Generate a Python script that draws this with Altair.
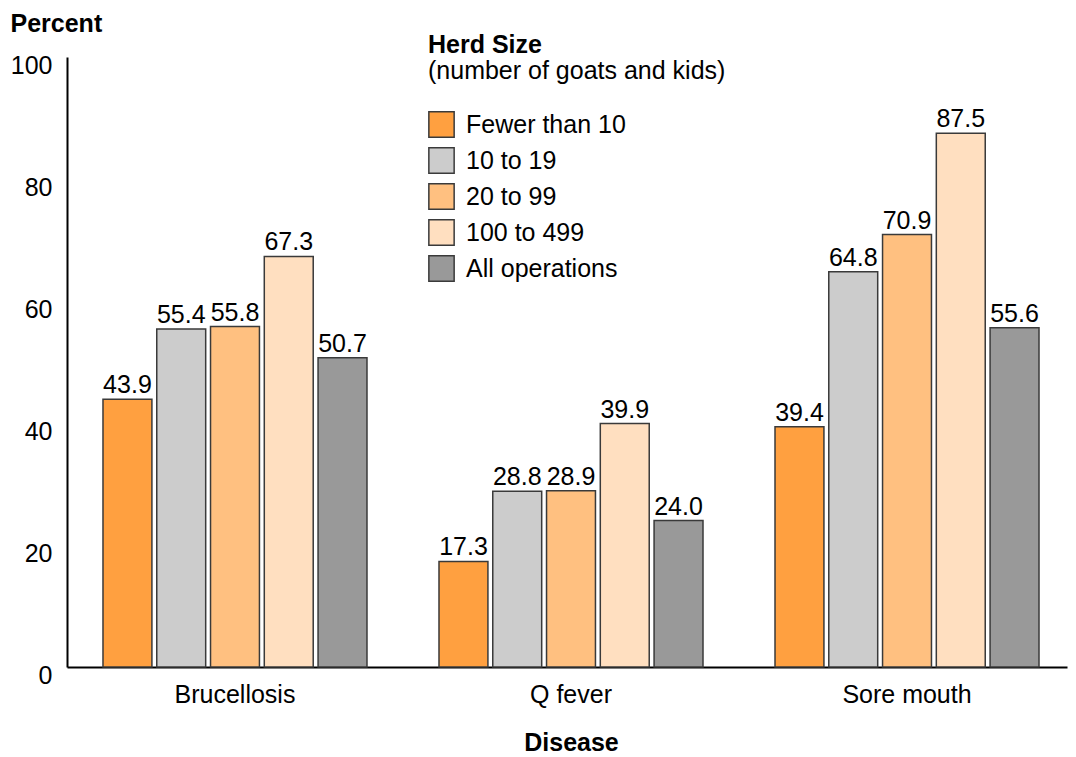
import altair as alt
import pandas as pd

diseases = ["Brucellosis", "Q fever", "Sore mouth"]
herd_sizes = ["Fewer than 10", "10 to 19", "20 to 99", "100 to 499", "All operations"]
colors = ["#FFA040", "#CCCCCC", "#FFC080", "#FFDFC0", "#999999"]
values = {
    "Brucellosis": [43.9, 55.4, 55.8, 67.3, 50.7],
    "Q fever": [17.3, 28.8, 28.9, 39.9, 24.0],
    "Sore mouth": [39.4, 64.8, 70.9, 87.5, 55.6],
}
y_ticks = [0, 20, 40, 60, 80, 100]
legend_title = "Herd Size"
legend_subtitle = "(number of goats and kids)"

rows = []
for d in diseases:
    for h, v in zip(herd_sizes, values[d]):
        rows.append({"Disease": d, "Herd": h, "Percent": v, "Label": f"{v:.1f}"})
df = pd.DataFrame(rows)

FONT = "Liberation Sans"
FS = 25

x_enc = alt.X("Disease:N", sort=diseases,
              scale=alt.Scale(paddingInner=0.2143, paddingOuter=0.0952, align=0.5625),
              axis=alt.Axis(title="Disease", titleFontWeight="bold", titleFontSize=FS,
                            titleFont=FONT, titleColor="black",
                            titleBaseline="alphabetic", titleY=83,
                            titleX=504, titleAlign="center",
                            labelFont=FONT, labelFontSize=FS, labelColor="black",
                            labelAngle=0, labelPadding=15, ticks=False,
                            domainColor="black", domainWidth=2))
xo_enc = alt.XOffset("Herd:N", sort=herd_sizes,
                     scale=alt.Scale(paddingInner=0.09, paddingOuter=0))
y_enc = alt.Y("Percent:Q",
              scale=alt.Scale(domain=[0, 100], nice=False),
              axis=alt.Axis(values=y_ticks, grid=False, ticks=False,
                            title="Percent", titleAngle=0, titleFontWeight="bold",
                            titleFontSize=FS, titleFont=FONT, titleColor="black",
                            titleAlign="left", titleBaseline="alphabetic",
                            titleX=-57, titleY=-26,
                            labelFont=FONT, labelFontSize=FS, labelColor="black",
                            labelPadding=15, labelBaseline="middle", labelOffset=8,
                            labelFlush=False,
                            domainColor="black", domainWidth=2))

bars = alt.Chart(df).mark_bar(stroke="#3a3a3a", strokeWidth=1.5).encode(
    x=x_enc,
    xOffset=xo_enc,
    y=y_enc,
    color=alt.Color("Herd:N", sort=herd_sizes,
                    scale=alt.Scale(domain=herd_sizes, range=colors),
                    legend=alt.Legend(title=None, orient="none", legendX=361, legendY=54,
                                      symbolType="square", symbolSize=640,
                                      symbolStrokeColor="#3a3a3a", symbolStrokeWidth=1.5,
                                      symbolOpacity=1,
                                      labelFont=FONT, labelFontSize=FS, labelColor="black",
                                      labelOffset=11, rowPadding=3)),
)

labels = alt.Chart(df).mark_text(font=FONT, fontSize=FS, color="black",
                                 baseline="alphabetic", dy=-6).encode(
    x=alt.X("Disease:N", sort=diseases),
    xOffset=alt.XOffset("Herd:N", sort=herd_sizes),
    y="Percent:Q",
    text="Label:N",
)

t1 = alt.Chart(pd.DataFrame({"t": [legend_title]})).mark_text(
    font=FONT, fontSize=FS, fontWeight="bold", color="black",
    align="left", baseline="alphabetic").encode(
    x=alt.value(361), y=alt.value(-4), text="t:N")
t2 = alt.Chart(pd.DataFrame({"t": [legend_subtitle]})).mark_text(
    font=FONT, fontSize=FS, color="black",
    align="left", baseline="alphabetic").encode(
    x=alt.value(361), y=alt.value(22), text="t:N")

chart = alt.layer(bars, labels, t1, t2).properties(
    width=1000, height=610,
    autosize=alt.AutoSizeParams(type="none"),
    padding={"left": 59, "top": 49, "right": 1, "bottom": 90},
).configure_view(stroke=None)

chart.save("out.html", embed_options={"renderer": "svg", "actions": False})
